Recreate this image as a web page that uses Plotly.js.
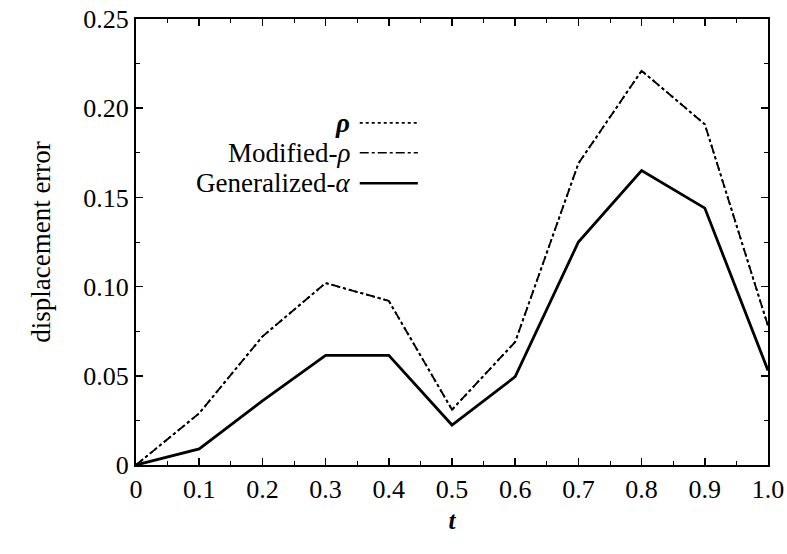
<!DOCTYPE html>
<html>
<head>
<meta charset="utf-8">
<script src="https://cdn.plot.ly/plotly-3.0.1.min.js"></script>
<style>html,body{margin:0;padding:0;background:#fff;}#chart{width:787px;height:554px;}</style>
</head>
<body>
<div id="chart"></div>
<script>
var t = [0, 0.1, 0.2, 0.3, 0.4, 0.5, 0.6, 0.7, 0.8, 0.9, 1.0];
var rhoErr = [0, 0.029, 0.072, 0.102, 0.092, 0.031, 0.069, 0.169, 0.221, 0.191, 0.078];
var modRhoErr = [0, 0.029, 0.072, 0.102, 0.092, 0.031, 0.069, 0.169, 0.221, 0.191, 0.078];
var genAlphaErr = [0, 0.009, 0.036, 0.0615, 0.0615, 0.0224, 0.0495, 0.125, 0.165, 0.144, 0.053];
var seriesNames = ["ρ", "Modified-ρ", "Generalized-α"];
var xTickVals = [0, 0.1, 0.2, 0.3, 0.4, 0.5, 0.6, 0.7, 0.8, 0.9, 1.0];
var xTickText = ["0", "0.1", "0.2", "0.3", "0.4", "0.5", "0.6", "0.7", "0.8", "0.9", "1.0"];
var yTickVals = [0, 0.05, 0.10, 0.15, 0.20, 0.25];
var yTickText = ["0", "0.05", "0.10", "0.15", "0.20", "0.25"];

var font = "Liberation Serif, DejaVu Serif, serif";

var traces = [
  {x: t, y: rhoErr, mode: "lines", name: seriesNames[0], line: {color: "#000", width: 1.8, dash: "dot"}},
  {x: t, y: modRhoErr, mode: "lines", name: seriesNames[1], line: {color: "#000", width: 1.8, dash: "dashdot"}},
  {x: t, y: genAlphaErr, mode: "lines", name: seriesNames[2], line: {color: "#000", width: 2.8}}
];

var legY = [0.767, 0.700, 0.632];
var legDash = ["dot", "dashdot", "solid"];
var legW = [1.6, 1.6, 2.5];
var shapes = [], annotations = [];
for (var i = 0; i < 3; i++) {
  shapes.push({type: "line", xref: "paper", yref: "paper", x0: 0.354, x1: 0.446, y0: legY[i], y1: legY[i],
    line: {color: "#000", width: legW[i], dash: legDash[i]}});
  annotations.push({xref: "paper", yref: "paper", x: 0.342, y: legY[i], xanchor: "right", yanchor: "middle",
    showarrow: false, text: i === 0 ? "<b><i>ρ</i></b>" : (i === 1 ? "Modified-<i>ρ</i>" : "Generalized-<i>α</i>"),
    font: {family: font, size: 27, color: "#000"}});
}

var layout = {
  width: 787, height: 554,
  margin: {l: 136, r: 19, t: 19, b: 89},
  paper_bgcolor: "#fff", plot_bgcolor: "#fff",
  showlegend: false,
  font: {family: font, size: 26, color: "#000"},
  xaxis: {
    range: [0, 1], tickvals: xTickVals, ticktext: xTickText,
    ticks: "inside", ticklen: 7, tickwidth: 1.5, tickcolor: "#000",
    minor: {dtick: 0.05, ticks: "inside", ticklen: 4, tickwidth: 1, tickcolor: "#000"},
    showline: true, linecolor: "#000", linewidth: 2, mirror: "ticks",
    showgrid: false, zeroline: false, fixedrange: true,
    tickfont: {family: font, size: 26, color: "#000"},
    title: {text: "<b><i>t</i></b>", standoff: 8, font: {family: font, size: 25, color: "#000"}}
  },
  yaxis: {
    range: [0, 0.25], tickvals: yTickVals, ticktext: yTickText,
    ticks: "inside", ticklen: 7, tickwidth: 1.5, tickcolor: "#000",
    minor: {dtick: 0.025, ticks: "inside", ticklen: 4, tickwidth: 1, tickcolor: "#000"},
    showline: true, linecolor: "#000", linewidth: 2, mirror: "ticks",
    showgrid: false, zeroline: false, fixedrange: true,
    tickfont: {family: font, size: 26, color: "#000"},
    title: {text: "displacement error", standoff: 25, font: {family: font, size: 27, color: "#000"}}
  },
  shapes: shapes,
  annotations: annotations
};

Plotly.newPlot("chart", traces, layout, {displayModeBar: false, staticPlot: true});
</script>
</body>
</html>
